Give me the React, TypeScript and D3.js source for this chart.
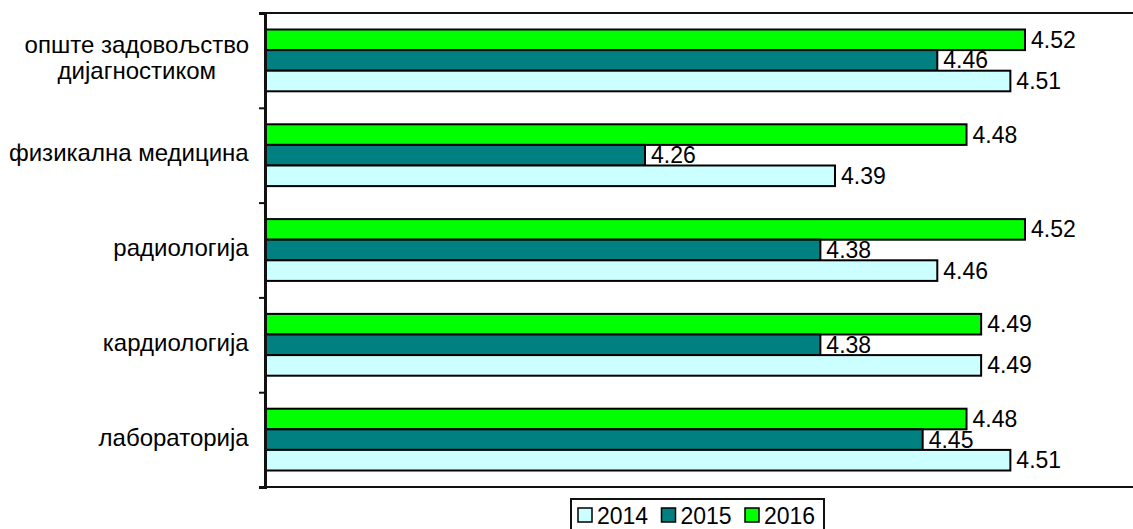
import React, { useEffect, useRef } from "react";
import * as d3 from "d3";

// categories, top to bottom
const categories = [
  "опште задовољство\nдијагностиком",
  "физикална медицина",
  "радиологија",
  "кардиологија",
  "лабораторија",
];
const years = ["2016", "2015", "2014"]; // order inside each group, top to bottom
const legendYears = ["2014", "2015", "2016"];
const values2014 = [4.51, 4.39, 4.46, 4.49, 4.51];
const values2015 = [4.46, 4.26, 4.38, 4.38, 4.45];
const values2016 = [4.52, 4.48, 4.52, 4.49, 4.48];
const colors: Record<string, string> = {
  "2014": "#CCFFFF",
  "2015": "#008080",
  "2016": "#00FF00",
};

const W = 1133;
const H = 529;
const FONT = "'Liberation Sans', Arial, sans-serif";

function App() {
  const svgRef = useRef<SVGSVGElement>(null);

  useEffect(() => {
    const svg = d3.select(svgRef.current);
    svg.selectAll("*").remove();

    const left = 265;
    const top = 13;
    const bottom = 487;

    // plot area runs past the right edge of the picture
    const x = d3.scaleLinear().domain([4, 4.6]).range([left, left + 0.6 * 1461.5]);
    const y = d3.scaleBand().domain(categories).range([top, bottom]).padding(0);
    const inner = d3
      .scaleBand()
      .domain(years)
      .range([16.5, y.bandwidth() - 16.5])
      .padding(0);

    const series: Record<string, number[]> = {
      "2014": values2014,
      "2015": values2015,
      "2016": values2016,
    };

    // plot frame (top and bottom edges)
    svg
      .selectAll(".frame")
      .data([top, bottom])
      .join("line")
      .attr("class", "frame")
      .attr("x1", left)
      .attr("x2", W + 40)
      .attr("y1", (d) => d)
      .attr("y2", (d) => d)
      .attr("stroke", "#111")
      .attr("stroke-width", 2);

    const groups = svg
      .selectAll(".grp")
      .data(categories)
      .join("g")
      .attr("class", "grp")
      .attr("transform", (d) => `translate(0,${y(d)})`);

    groups.each(function (cat, i) {
      const g = d3.select(this);
      years.forEach((yr) => {
        const v = series[yr][i];
        g.append("rect")
          .attr("x", x(4))
          .attr("y", inner(yr)!)
          .attr("width", x(v) - x(4))
          .attr("height", inner.bandwidth())
          .attr("fill", colors[yr])
          .attr("stroke", "#000")
          .attr("stroke-width", 2);
      });
      years.forEach((yr) => {
        const v = series[yr][i];
        g.append("text")
          .attr("x", x(v) + 6)
          .attr("y", inner(yr)! + inner.bandwidth() / 2 + 8)
          .attr("font-family", FONT)
          .attr("font-size", 23)
          .attr("fill", "#000")
          .text(v.toFixed(2));
      });
    });

    // left axis
    const yAxis = d3
      .axisLeft(d3.scaleLinear().domain([0, categories.length]).range([top, bottom]))
      .ticks(categories.length)
      .tickSize(6)
      .tickFormat(() => "");
    svg
      .append("g")
      .attr("transform", `translate(${left},0)`)
      .call(yAxis)
      .call((g) => g.selectAll("line").attr("stroke", "#111").attr("stroke-width", 2))
      .call((g) => g.select(".domain").attr("stroke", "#111").attr("stroke-width", 3));

    // category labels
    const labelRight = 249;
    categories.forEach((cat) => {
      const lines = cat.split("\n");
      const cy = (y(cat) ?? 0) + y.bandwidth() / 2;
      const lh = 26;
      const t = svg
        .append("text")
        .attr("font-family", FONT)
        .attr("font-size", 24)
        .attr("fill", "#000")
        .attr("text-anchor", "middle");
      lines.forEach((ln, j) => {
        t.append("tspan")
          .attr("x", 0)
          .attr("y", cy + 6 + (j - (lines.length - 1) / 2) * lh)
          .text(ln);
      });
      const w = (t.node() as SVGTextElement).getBBox().width;
      t.selectAll("tspan").attr("x", labelRight - w / 2);
    });

    // legend
    const lg = svg.append("g").attr("transform", "translate(571,499)");
    lg.append("rect")
      .attr("width", 253)
      .attr("height", 40)
      .attr("fill", "white")
      .attr("stroke", "#111")
      .attr("stroke-width", 2);
    const itemX = d3.scalePoint().domain(legendYears).range([7, 174]);
    legendYears.forEach((yr) => {
      const ix = itemX(yr)!;
      lg.append("rect")
        .attr("x", ix)
        .attr("y", 9)
        .attr("width", 14)
        .attr("height", 14)
        .attr("fill", colors[yr])
        .attr("stroke", "#000")
        .attr("stroke-width", 1.5);
      lg.append("text")
        .attr("x", ix + 19)
        .attr("y", 25)
        .attr("font-family", FONT)
        .attr("font-size", 23)
        .attr("fill", "#000")
        .text(yr);
    });
  }, []);

  return (
    <svg
      ref={svgRef}
      width={W}
      height={H}
      style={{ position: "absolute", left: 0, top: 0, background: "white", overflow: "hidden" }}
    />
  );
}

export default App;
